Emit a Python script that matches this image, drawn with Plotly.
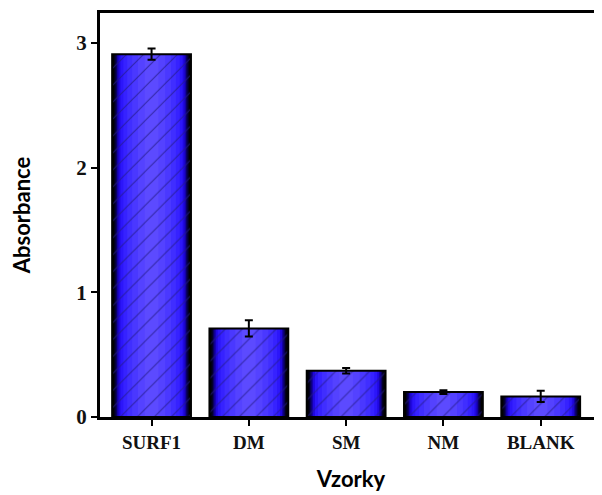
import plotly.graph_objects as go

categories = ["SURF1", "DM", "SM", "NM", "BLANK"]
absorbance = [2.91, 0.71, 0.37, 0.20, 0.165]
errors = [0.045, 0.065, 0.022, 0.015, 0.045]

# gradient layers (outer -> inner): width, colour
layers = [
    (0.81, "#000000"),
    (0.77, "#030020"),
    (0.74, "#0a0060"),
    (0.71, "#1400a8"),
    (0.68, "#2008e0"),
    (0.64, "#2c16fa"),
    (0.58, "#3622ff"),
    (0.50, "#402eff"),
    (0.40, "#4a38ff"),
    (0.28, "#5442ff"),
    (0.14, "#5c4aff"),
]

fig = go.Figure()
for w, c in layers:
    fig.add_trace(go.Bar(
        x=categories, y=absorbance, width=w,
        marker=dict(color=c, line=dict(width=0)),
        hoverinfo="skip", showlegend=False,
    ))

# hatch + outline + error bars on top
fig.add_trace(go.Bar(
    x=categories, y=absorbance, width=0.81,
    marker=dict(
        color="rgba(0,0,0,0)",
        line=dict(color="black", width=2),
        pattern=dict(shape="/", size=12, solidity=0.1,
                     fgcolor="#241a88", bgcolor="rgba(0,0,0,0)",
                     fgopacity=0.7),
    ),
    error_y=dict(type="data", array=errors, color="black",
                 thickness=2, width=4),
    showlegend=False,
))

# page body adds an 8px offset, so the figure is 8px smaller than the window
fig.update_layout(
    width=594, height=487,
    barmode="overlay",
    plot_bgcolor="white", paper_bgcolor="white",
    margin=dict(l=92, r=0, t=5, b=78, autoexpand=False),
)

fig.update_xaxes(
    range=[-0.53, 4.63], automargin=False,
    showline=True, linecolor="black", linewidth=3, mirror=True,
    ticks="outside", ticklen=6, tickwidth=2, tickcolor="black",
    tickfont=dict(family="Liberation Serif", size=19, color="#111", weight="bold"),
    title=dict(text="Vzorky", standoff=20,
               font=dict(family="Lato", size=22, color="black", weight="bold")),
    showgrid=False,
)
fig.update_yaxes(
    range=[0, 3.24], automargin=False,
    tickvals=[0, 1, 2, 3],
    showline=True, linecolor="black", linewidth=3,
    ticks="outside", ticklen=6, tickwidth=2, tickcolor="black",
    tickfont=dict(family="Liberation Serif", size=21, color="#111", weight="bold"),
    title=dict(text="Absorbance", standoff=40,
               font=dict(family="Lato", size=22, color="black", weight="bold")),
    showgrid=False, zeroline=False,
)

fig.write_html("out.html")
